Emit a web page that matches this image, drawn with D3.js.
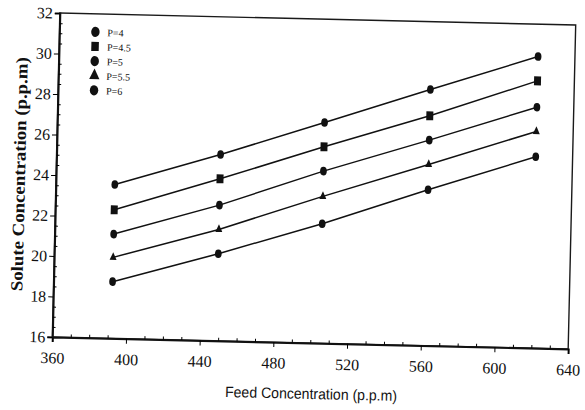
<!DOCTYPE html>
<html>
<head>
<meta charset="utf-8">
<script src="https://cdn.jsdelivr.net/npm/d3@7"></script>
<style>
  html, body { margin: 0; padding: 0; background: #fff; }
  svg { display: block; }
</style>
</head>
<body>
<svg id="chart" width="585" height="410"></svg>
<script>
// data
const feedConc = [392, 449, 505, 562, 620];
const seriesNames = ["P=4", "P=4.5", "P=5", "P=5.5", "P=6"];
const p4  = [23.6, 25.2, 26.9, 28.65, 30.4];
const p45 = [22.35, 24.0, 25.7, 27.35, 29.2];
const p5  = [21.15, 22.7, 24.5, 26.15, 27.9];
const p55 = [20.0, 21.5, 23.25, 24.95, 26.7];
const p6  = [18.8, 20.3, 21.9, 23.7, 25.45];
const xTicks = [360, 400, 440, 480, 520, 560, 600, 640];
const yTicks = [16, 18, 20, 22, 24, 26, 28, 30, 32];

const seriesVals = [p4, p45, p5, p55, p6];
const shapes = [d3.symbolCircle, d3.symbolSquare, d3.symbolCircle, d3.symbolTriangle, d3.symbolCircle];
const sizes = [44, 60, 44, 26, 44];

let svg = d3.select("#chart");
let plotLeft = 56, plotRight = 572, plotTop = 19, plotBottom = 343;

let x = d3.scaleLinear().domain([360, 640]).range([plotLeft, plotRight]);
let y = d3.scaleLinear().domain([16, 32]).range([plotBottom, plotTop]);

// the scan is slightly tilted, so the whole figure is turned a little
let g = svg.append("g").attr("transform", "rotate(1.33, 314, 181)");

// frame
g.append("rect")
    .attr("x", plotLeft).attr("y", plotTop)
    .attr("width", plotRight - plotLeft).attr("height", plotBottom - plotTop)
    .attr("fill", "none").attr("stroke", "#1a1a1a").attr("stroke-width", 1.4);

// x axis
let xAxis = g.append("g")
    .attr("transform", `translate(0,${plotBottom})`)
    .call(d3.axisBottom(x).tickValues(xTicks).tickSize(5).tickPadding(10).tickFormat(d3.format("d")));
xAxis.select(".domain").attr("stroke", "#111").attr("stroke-width", 2);
xAxis.selectAll("text")
    .style("font-family", "'Liberation Serif', serif")
    .style("font-size", "16px")
    .attr("fill", "#111");

g.append("g")
    .attr("transform", `translate(0,${plotBottom})`)
    .call(d3.axisTop(x).tickValues(d3.range(370, 640, 10).filter(v => v % 40 !== 0)).tickSize(3).tickFormat(""))
    .select(".domain").remove();

// y axis
let yAxis = g.append("g")
    .attr("transform", `translate(${plotLeft},0)`)
    .call(d3.axisLeft(y).tickValues(yTicks).tickSize(5).tickPadding(2));
yAxis.select(".domain").attr("stroke", "#111").attr("stroke-width", 2);
yAxis.selectAll("text")
    .style("font-family", "'Liberation Serif', serif")
    .style("font-size", "16px")
    .attr("fill", "#111");

g.append("g")
    .attr("transform", `translate(${plotLeft},0)`)
    .call(d3.axisRight(y).tickValues(d3.range(16.5, 32, 0.5).filter(v => v % 2 !== 0)).tickSize(3).tickFormat(""))
    .select(".domain").remove();

// axis titles
g.append("text")
    .attr("x", (plotLeft + plotRight) / 2 + 2)
    .attr("y", 399)
    .attr("text-anchor", "middle")
    .attr("textLength", 172)
    .attr("lengthAdjust", "spacingAndGlyphs")
    .style("font-family", "'Liberation Sans', sans-serif")
    .style("font-size", "15px")
    .attr("fill", "#111")
    .text("Feed Concentration (p.p.m)");

g.append("text")
    .attr("transform", `translate(25,${(plotTop + plotBottom) / 2}) rotate(-90)`)
    .attr("text-anchor", "middle")
    .attr("textLength", 234)
    .attr("lengthAdjust", "spacingAndGlyphs")
    .style("font-family", "'Liberation Serif', serif")
    .style("font-weight", "bold")
    .style("font-size", "17px")
    .attr("fill", "#111")
    .text("Solute Concentration (p.p.m)");

// lines and markers
let line = d3.line()
    .x((d, i) => x(feedConc[i]))
    .y(d => y(d));

seriesVals.forEach((vals, k) => {
    g.append("path")
        .datum(vals)
        .attr("d", line)
        .attr("fill", "none")
        .attr("stroke", "#111")
        .attr("stroke-width", 1.5);

    g.append("g")
        .selectAll("path")
        .data(vals)
        .join("path")
        .attr("transform", (d, i) => `translate(${x(feedConc[i])},${y(d)}) scale(0.9,1.15)`)
        .attr("d", d3.symbol().type(shapes[k]).size(sizes[k]))
        .attr("fill", "#111");
});

// legend
let legend = g.append("g").attr("transform", "translate(92,37)");
seriesNames.forEach((name, k) => {
    let row = legend.append("g").attr("transform", `translate(0,${k * 14.6})`);
    row.append("path")
        .attr("transform", "scale(0.95,1.15)")
        .attr("d", d3.symbol().type(shapes[k]).size(k == 3 ? 50 : 62))
        .attr("fill", "#111");
    row.append("text")
        .attr("x", 12)
        .attr("dy", "0.4em")
        .style("font-family", "'Liberation Serif', serif")
        .style("font-size", "10px")
        .attr("fill", "#111")
        .text(name);
});
</script>
</body>
</html>
